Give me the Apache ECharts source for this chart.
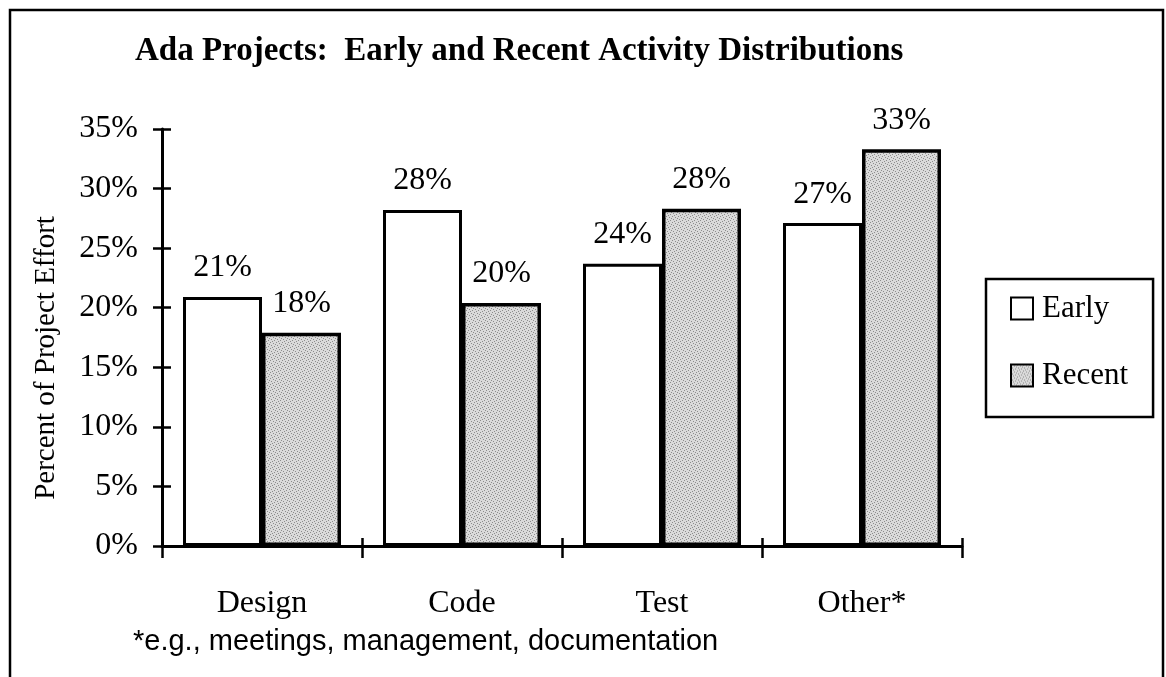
<!DOCTYPE html>
<html>
<head>
<meta charset="utf-8">
<script src="https://cdn.jsdelivr.net/npm/echarts@6/dist/echarts.min.js"></script>
<style>
  html, body { margin: 0; padding: 0; background: #fff; }
  #chart { width: 1166px; height: 677px; }
</style>
</head>
<body>
<div id="chart"></div>
<script>
const categories = ['Design', 'Code', 'Test', 'Other*'];
const earlyValues = [20.9, 28.2, 23.7, 27.1];
const recentValues = [17.9, 20.4, 28.3, 33.3];
const yTicks = [0, 5, 10, 15, 20, 25, 30, 35];

// stippled gray fill for the "Recent" bars
function stipple() {
  const c = document.createElement('canvas');
  c.width = 6; c.height = 6;
  const g = c.getContext('2d');
  g.fillStyle = '#dadada';
  g.fillRect(0, 0, 6, 6);
  g.fillStyle = '#8c8c8c';
  [[0, 0], [3, 1], [1, 3], [4, 4], [2, 5], [5, 2]].forEach(([x, y]) => g.fillRect(x, y, 1, 1));
  return c;
}

const serif = '"Liberation Serif", "Times New Roman", serif';
const chart = echarts.init(document.getElementById('chart'));

const labelOpt = {
  show: true,
  position: 'top',
  distance: 13,
  fontFamily: serif,
  fontSize: 32,
  color: '#000',
  formatter: (p) => Math.round(p.value) + '%',
};

const option = {
  animation: false,
  backgroundColor: '#fff',
  title: {
    text: 'Ada Projects:  Early and Recent Activity Distributions',
    left: 130,
    top: 30,
    textStyle: { fontFamily: serif, fontSize: 33, fontWeight: 'bold', color: '#000' },
  },
  legend: {
    orient: 'vertical',
    left: 986,
    top: 279,
    padding: [14, 25, 26, 24],
    itemGap: 36,
    itemWidth: 22,
    itemHeight: 22,
    icon: 'rect',
    backgroundColor: '#fff',
    borderColor: '#000',
    borderWidth: 2.5,
    borderRadius: 0,
    textStyle: { fontFamily: serif, fontSize: 31, color: '#000', padding: [0, 0, 0, 4] },
    data: ['Early', 'Recent'],
  },
  grid: { left: 162, right: 204, top: 129, bottom: 131 },
  xAxis: [
    {
      type: 'category',
      data: categories,
      position: 'bottom',
      axisLine: { lineStyle: { color: '#000', width: 3 } },
      axisTick: { show: true, length: 12, lineStyle: { color: '#000', width: 2.5 } },
      axisLabel: { margin: 42, fontFamily: serif, fontSize: 32, color: '#000' },
    },
    {
      type: 'category',
      data: categories,
      position: 'bottom',
      axisLine: { show: false },
      axisTick: { show: true, inside: true, length: 8, lineStyle: { color: '#000', width: 2.5 } },
      axisLabel: { show: false },
    },
  ],
  yAxis: [
    {
      type: 'value',
      min: yTicks[0],
      max: yTicks[yTicks.length - 1],
      interval: 5,
      axisLine: { show: true, lineStyle: { color: '#000', width: 3 } },
      axisTick: { show: true, length: 9, lineStyle: { color: '#000', width: 2.5 } },
      axisLabel: { margin: 24, fontFamily: serif, fontSize: 32, color: '#000', formatter: '{value}%' },
      splitLine: { show: false },
    },
    {
      type: 'value',
      min: yTicks[0],
      max: yTicks[yTicks.length - 1],
      interval: 5,
      position: 'left',
      axisLine: { show: false },
      axisTick: { show: true, inside: true, length: 9, lineStyle: { color: '#000', width: 2.5 } },
      axisLabel: { show: false },
      splitLine: { show: false },
    },
  ],
  series: [
    {
      name: 'Early',
      type: 'bar',
      data: earlyValues,
      barGap: '0%',
      barCategoryGap: '21%',
      itemStyle: { color: '#fff', borderColor: '#000', borderWidth: 3 },
      label: labelOpt,
    },
    {
      name: 'Recent',
      type: 'bar',
      data: recentValues,
      itemStyle: { color: { image: stipple(), repeat: 'repeat' }, borderColor: '#000', borderWidth: 3.5 },
      label: labelOpt,
    },
  ],
  graphic: [
    {
      type: 'rect',
      shape: { x: 10, y: 10, width: 1153, height: 720 },
      style: { fill: null, stroke: '#000', lineWidth: 2.5 },
      silent: true,
    },
    {
      type: 'text',
      x: 46,
      y: 358,
      rotation: Math.PI / 2,
      style: {
        text: 'Percent of Project Effort',
        font: '29px "Liberation Serif", "Times New Roman", serif',
        fill: '#000',
        align: 'center',
        verticalAlign: 'middle',
      },
    },
    {
      type: 'text',
      left: 133,
      top: 627,
      style: {
        text: '*e.g., meetings, management, documentation',
        font: '29px "Liberation Sans", Arial, sans-serif',
        fill: '#000',
      },
    },
  ],
};

chart.setOption(option);
window.addEventListener('resize', () => chart.resize());
</script>
</body>
</html>
